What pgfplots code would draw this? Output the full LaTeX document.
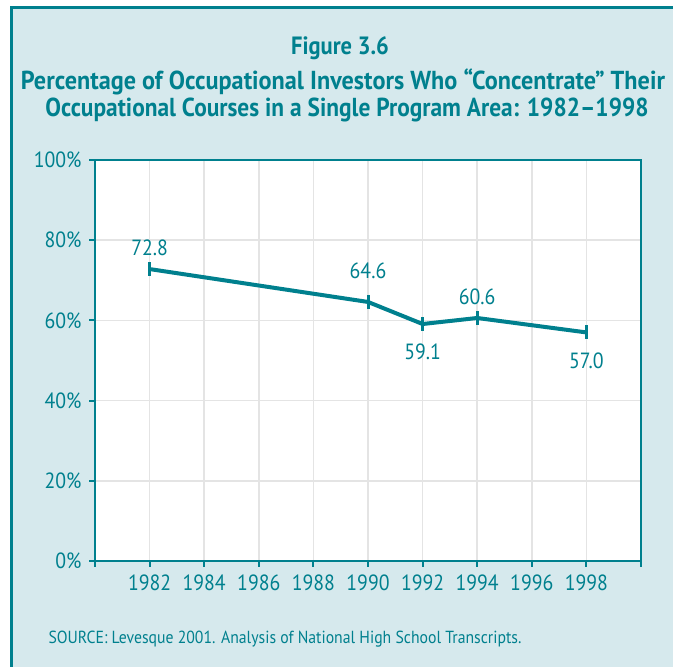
\documentclass[border=0pt]{standalone}
\usepackage{pgfplots}
\pgfplotsset{compat=1.18}
\usepackage{fontspec}
\setmainfont{PT Sans}[FakeStretch=0.9]
\definecolor{ctteal}{RGB}{0,128,142}
\definecolor{bgblue}{RGB}{214,233,237}
\definecolor{gridgray}{RGB}{228,228,228}
\begin{document}
\begin{tikzpicture}[x=1pt,y=1pt]
\fill[white] (0,0) rectangle (673,667);
\fill[bgblue] (11,0) rectangle (690,659);
\draw[ctteal, line width=3pt] (11,-5) -- (11,659) -- (690,659);
% titles
\node[anchor=base, text=ctteal, font=\bfseries\fontsize{25}{30}\selectfont] at (340,612) {Figure 3.6};
\node[anchor=base, text=ctteal, font=\bfseries\fontsize{26}{30}\selectfont, xscale=1.035] at (343,577) {Percentage of Occupational Investors Who “Concentrate” Their};
\node[anchor=base, text=ctteal, font=\bfseries\fontsize{26}{30}\selectfont] at (347,550) {Occupational Courses in a Single Program Area: 1982–1998};
\begin{axis}[
  at={(95pt,106pt)}, anchor=south west,
  scale only axis, width=546pt, height=401pt,
  xmin=1980, xmax=2000, ymin=0, ymax=100,
  xtick={1980,1982,...,2000},
  xticklabels={,1982,1984,1986,1988,1990,1992,1994,1996,1998,},
  ytick={0,20,...,100},
  yticklabels={0\%,20\%,40\%,60\%,80\%,100\%},
  xtick pos=bottom, ytick pos=left,
  tick align=outside, major tick length=6pt,
  tick style={ctteal, line width=2pt},
  axis line style={ctteal, line width=2pt},
  grid=major, major grid style={gridgray, line width=1.5pt},
  axis background/.style={fill=white},
  every tick label/.append style={text=ctteal, font=\fontsize{22}{26}\selectfont},
  xticklabel style={yshift=-4pt},
  yticklabel style={xshift=-4pt},
  /pgf/number format/assume math mode=true,
  clip=false,
]
\addplot[ctteal, line width=4pt, mark=|, mark size=7pt, mark options={line width=3pt}] coordinates {
  (1982,72.8) (1990,64.6) (1992,59.1) (1994,60.6) (1998,57.0)
};
% labels above the points
\addplot[draw=none, nodes near coords={\pgfmathprintnumber[fixed,fixed zerofill,precision=1]{\pgfplotspointmeta}},
  every node near coord/.append style={anchor=south, inner sep=0pt, yshift=13pt, text=ctteal, font=\fontsize{22}{26}\selectfont}] coordinates {
  (1982,72.8) (1994,60.6)
};
\addplot[draw=none, nodes near coords={\pgfmathprintnumber[fixed,fixed zerofill,precision=1]{\pgfplotspointmeta}},
  every node near coord/.append style={anchor=south, inner sep=0pt, yshift=23pt, text=ctteal, font=\fontsize{22}{26}\selectfont}] coordinates {
  (1990,64.6)
};
% labels below the points
\addplot[draw=none, nodes near coords={\pgfmathprintnumber[fixed,fixed zerofill,precision=1]{\pgfplotspointmeta}},
  every node near coord/.append style={anchor=north, inner sep=0pt, yshift=-20pt, text=ctteal, font=\fontsize{22}{26}\selectfont}] coordinates {
  (1992,59.1) (1998,57.0)
};
\end{axis}
\node[anchor=base west, text=ctteal, font=\fontsize{17.5}{21}\selectfont] at (45,23) {SOURCE: Levesque 2001. Analysis of National High School Transcripts.};
\pgfresetboundingbox
\useasboundingbox (0,0) rectangle (673,667);
\end{tikzpicture}
\end{document}
